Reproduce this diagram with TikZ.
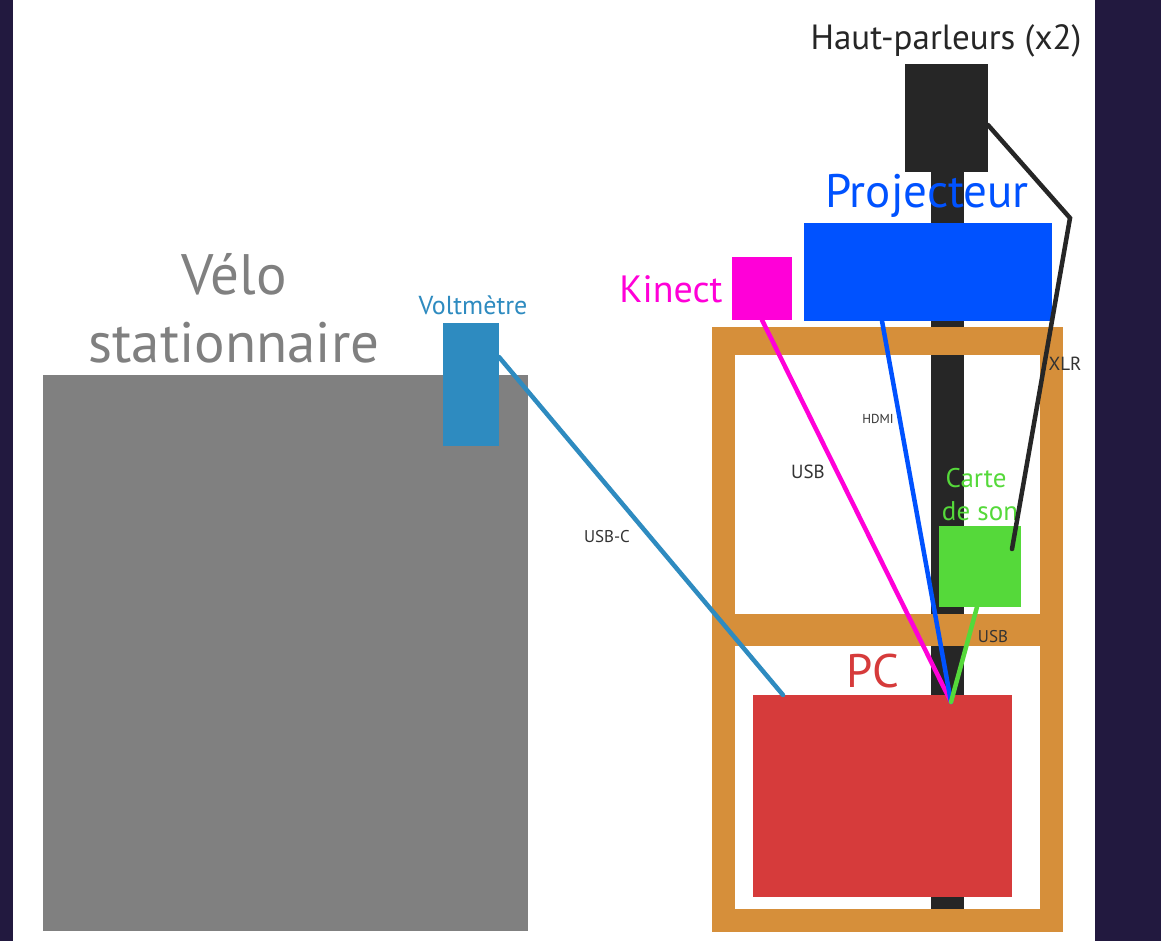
\documentclass[tikz,border=0pt]{standalone}
\usepackage{fontspec}
\setmainfont{PT Sans}
\usetikzlibrary{calc}
\definecolor{bgdark}{HTML}{22193F}
\definecolor{velogray}{HTML}{808080}
\definecolor{voltblue}{HTML}{2E8BC0}
\definecolor{kinmag}{HTML}{FF00D8}
\definecolor{projblue}{HTML}{0052FF}
\definecolor{spkdark}{HTML}{262626}
\definecolor{frameor}{HTML}{D68F3A}
\definecolor{cardgreen}{HTML}{55D93A}
\definecolor{pcred}{HTML}{D63B3B}
\definecolor{labeldark}{HTML}{333333}
\newcommand{\fs}[1]{\fontsize{#1}{#1}\selectfont}
\tikzset{
  box/.style={draw=none, inner sep=0pt, outer sep=0pt, anchor=north west},
  lbl/.style={inner sep=0pt, anchor=base},
  cable/.style={line width=4.5pt, line cap=round},
  cablelbl/.style={inner sep=0pt, anchor=base, text=labeldark},
}
\begin{document}
\begin{tikzpicture}[x=1pt, y=-1pt]
\useasboundingbox (0,0) rectangle (1161,941);
% background
\fill[bgdark] (0,0) rectangle (1161,941);
\fill[white] (13,0) rectangle (1095,941);

% bike
\node[box, fill=velogray, minimum width=485pt, minimum height=556pt] (velo) at (43,375) {};
\node[lbl, text=velogray] (velolbl1) at (234,294) {\fs{57}Vélo};
\node[lbl, text=velogray] (velolbl2) at (234,362) {\fs{57}stationnaire};

% voltmeter
\node[box, fill=voltblue, minimum width=56pt, minimum height=123pt] (volt) at (443,323) {};
\node[lbl, text=voltblue] (voltlbl) at (473,314) {\fs{26}Voltmètre};

% pole
\node[box, fill=spkdark, minimum width=33pt, minimum height=740pt] (pole) at (931,170) {};

% frame
\fill[frameor] (712,327) rectangle (1063,355);
\fill[frameor] (712,327) rectangle (735,932);
\fill[frameor] (1040,327) rectangle (1063,932);
\fill[frameor] (712,614) rectangle (1063,646);
\fill[frameor] (712,909) rectangle (1063,932);

% speakers
\node[box, fill=spkdark, minimum width=83pt, minimum height=108pt] (spk) at (905,64) {};
\node[lbl, text=spkdark] (spklbl) at (946,50) {\fs{35}Haut-parleurs (x2)};

% projector
\node[box, fill=projblue, minimum width=248pt, minimum height=98pt] (proj) at (804,223) {};
\node[lbl, text=projblue] (projlbl) at (927,208) {\fs{47}Projecteur};

% kinect
\node[box, fill=kinmag, minimum width=60pt, minimum height=63pt] (kinect) at (732,257) {};
\node[lbl, text=kinmag] (kinlbl) at (671,302) {\fs{38}Kinect};

% sound card
\node[box, fill=cardgreen, minimum width=82pt, minimum height=81pt] (card) at (939,526) {};
\node[lbl, text=cardgreen] (cardlbl1) at (976,487) {\fs{27}Carte};
\node[lbl, text=cardgreen] (cardlbl2) at (980,520) {\fs{27}de son};

% PC
\node[box, fill=pcred, minimum width=259pt, minimum height=202pt] (pc) at (753,695) {};
\node[lbl, text=pcred] (pclbl) at (873,687) {\fs{47}PC};

% cable endpoints
\coordinate (pcport) at (951,702);
\coordinate (pcusbc) at ($(pc.north west)+(30,0)$);
\coordinate (voltout) at ($(volt.north east)+(0,34)$);
\coordinate (projout) at ($(proj.south west)+(78,0)$);
\coordinate (cardout) at ($(card.south)+(-3,0)$);
\coordinate (spkout) at ($(spk.north east)+(0,61)$);
\coordinate (xlrbend) at (1070,218);
\coordinate (cardin) at (1012,549);

% cables
\draw[cable, voltblue] (voltout) -- (pcusbc);
\draw[cable, kinmag] (kinect.south) -- (pcport);
\draw[cable, projblue] (projout) -- (pcport);
\draw[cable, cardgreen] (cardout) -- (pcport);
\draw[cable, spkdark, line join=miter] (spkout) -- (xlrbend) -- (cardin);

% cable labels
\node[cablelbl] (usbclbl) at (607,542) {\fs{17}USB-C};
\node[cablelbl] (usbklbl) at (808,478) {\fs{19}USB};
\node[cablelbl] (hdmilbl) at (878,423) {\fs{13}HDMI};
\node[cablelbl] (xlrlbl) at (1065,370) {\fs{19}XLR};
\node[cablelbl] (usbglbl) at (993,642) {\fs{17}USB};
\end{tikzpicture}
\end{document}
